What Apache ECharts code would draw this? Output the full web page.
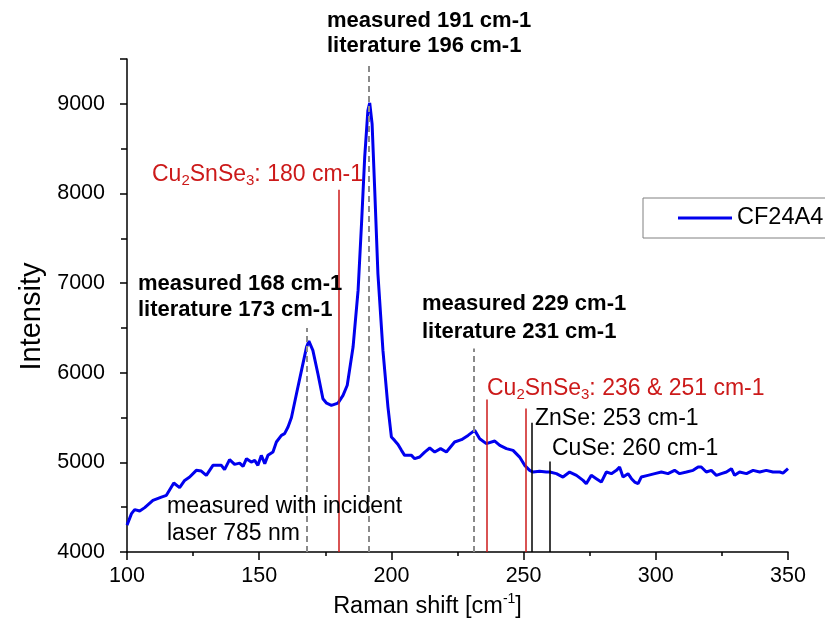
<!DOCTYPE html>
<html><head><meta charset="utf-8">
<script src="https://cdn.jsdelivr.net/npm/echarts@6/dist/echarts.min.js"></script>
<style>html,body{margin:0;padding:0;background:#fff}#c{width:825px;height:622px}</style>
</head><body><div id="c"></div>
<script>
// ---- data ----
const seriesName = 'CF24A4';
const ramanShift = [100.0,100.4,101.7,102.9,104.8,106.7,109.8,113.0,114.9,117.7,119.9,121.8,123.7,126.2,128.1,130.0,132.5,135.7,136.9,138.8,140.7,142.6,143.9,145.2,147.0,148.3,149.5,150.8,152.1,153.3,155.2,156.5,158.4,159.6,160.9,162.2,164.1,166.0,167.9,168.8,170.3,172.2,174.1,175.5,177.3,179.8,181.7,183.3,185.5,187.4,188.7,189.9,191.1,191.8,192.7,193.7,194.9,196.8,198.7,200.0,201.2,202.5,203.8,205.0,207.6,208.8,210.7,212.6,214.5,216.4,218.6,220.8,221.4,223.9,226.5,229.0,231.5,233.4,235.9,239.1,241.0,243.5,246.0,248.5,250.4,252.3,253.6,256.0,258.6,259.9,262.4,264.9,267.4,270.0,272.5,273.7,275.6,277.5,279.4,281.3,283.2,285.1,286.3,287.6,289.5,290.8,292.0,293.3,294.5,297.0,299.6,302.1,304.6,307.1,309.0,311.6,314.1,316.0,317.2,319.1,321.0,322.9,324.8,326.7,328.6,329.8,331.7,334.3,336.8,339.3,341.8,344.3,346.9,348.1,350.0];
const intensity = [4300,4317,4428,4473,4457,4495,4576,4613,4632,4770,4718,4799,4836,4911,4903,4855,4967,4967,4919,5030,4978,4992,4955,5041,5003,5022,4967,5078,4986,5078,5115,5227,5301,5320,5394,5500,5766,6026,6286,6353,6249,5989,5710,5660,5636,5661,5747,5860,6286,6918,7662,8404,8925,9010,8777,8033,7104,6249,5617,5282,5245,5200,5134,5078,5078,5041,5060,5115,5160,5115,5153,5115,5097,5227,5253,5301,5357,5264,5209,5238,5190,5153,5134,5059,4967,4911,4892,4900,4892,4892,4874,4836,4892,4855,4799,4762,4855,4818,4780,4892,4874,4911,4948,4836,4874,4818,4780,4762,4836,4855,4874,4892,4874,4911,4874,4892,4911,4948,4948,4892,4911,4855,4874,4892,4930,4855,4892,4874,4911,4892,4911,4892,4892,4880,4930];
const xTickValues = [100,150,200,250,300,350];
const yTickValues = [4000,5000,6000,7000,8000,9000];
const yAxisTop = 9500;
// peak marker lines (dashed grey): position and top value
const peakLineX = [168, 191.5, 231];
const peakLineTop = [6500, 9430, 6270];
// Cu2SnSe3 literature lines (red)
const cu2LineX = [180, 236, 251];
const cu2LineTop = [8040, 5700, 5600];
// other phases (black)
const phaseLineX = [253, 260];
const phaseLineTop = [5443, 5011];

const F='Liberation Sans, Arial, sans-serif';
const axisFont=F, tickSize=21.5, nameSize=23.5;
const RED='#cc1a1a', GREY='#8a8a8a';

const seg=(x,top)=>[{coord:[x,yTickValues[0]]},{coord:[x,top]}];
const mlData=[];
peakLineX.forEach((x,i)=>mlData.push(seg(x,peakLineTop[i]).map((p,j)=>j?p:Object.assign(p,{lineStyle:{color:GREY,width:2,type:[6,4]}}))));
cu2LineX.forEach((x,i)=>mlData.push(seg(x,cu2LineTop[i]).map((p,j)=>j?p:Object.assign(p,{lineStyle:{color:RED,width:1.5,type:'solid'}}))));
phaseLineX.forEach((x,i)=>mlData.push(seg(x,phaseLineTop[i]).map((p,j)=>j?p:Object.assign(p,{lineStyle:{color:'#000',width:1.5,type:'solid'}}))));

function txt(x,y,text,opt){
  return {type:'text',x:x,y:y,z:100,silent:true,style:Object.assign({text:text,fill:'#000',font:'23px '+F,verticalAlign:'middle',align:'left'},opt||{})};
}
const richSub={
  m:{fontSize:23,fontFamily:F,color:RED,lineHeight:26,verticalAlign:'middle'},
  s:{fontSize:15,fontFamily:F,color:RED,lineHeight:6,verticalAlign:'bottom'}
};
const B='bold 22px '+F;

const chart=echarts.init(document.getElementById('c'),null,{renderer:'canvas'});
chart.setOption({
  animation:false,
  backgroundColor:'#fff',
  grid:{left:127,right:37,top:59,bottom:70,containLabel:false,outerBoundsMode:'none'},
  legend:{left:643,top:198,padding:[8,45,8,35],itemWidth:54,itemHeight:3,icon:'rect',borderColor:'#808080',borderWidth:1,
    textStyle:{fontFamily:F,fontSize:23.5,color:'#000',lineHeight:24},data:[seriesName]},
  xAxis:{type:'value',min:xTickValues[0],max:xTickValues[xTickValues.length-1],interval:xTickValues[1]-xTickValues[0],
    name:'Raman shift [cm{sup|-1}]',nameLocation:'middle',nameGap:38,
    nameTextStyle:{fontFamily:axisFont,fontSize:nameSize,color:'#000',lineHeight:30,padding:[0,60,0,0],
      rich:{sup:{fontFamily:axisFont,fontSize:14,color:'#000',lineHeight:18,verticalAlign:'top'}}},
    axisLine:{onZero:false,lineStyle:{color:'#000',width:1.5}},
    axisTick:{length:8,lineStyle:{color:'#000',width:1.5}},
    minorTick:{show:true,splitNumber:2,length:4,lineStyle:{color:'#000',width:1.5}},
    splitLine:{show:false},
    axisLabel:{margin:13,fontFamily:axisFont,fontSize:tickSize,color:'#000',formatter:v=>String(v)}},
  yAxis:{type:'value',min:yTickValues[0],max:yAxisTop,interval:yTickValues[1]-yTickValues[0],
    name:'Intensity',nameLocation:'middle',nameGap:74,
    nameTextStyle:{fontFamily:F,fontSize:29,color:'#000',padding:[0,22,0,0]},
    axisLine:{show:true,onZero:false,lineStyle:{color:'#000',width:1.5}},
    axisTick:{show:true,length:7,lineStyle:{color:'#000',width:1.5}},
    minorTick:{show:true,splitNumber:2,length:6,lineStyle:{color:'#000',width:1.5}},
    splitLine:{show:false},
    axisLabel:{margin:22,fontFamily:axisFont,fontSize:tickSize,color:'#000',showMaxLabel:false,formatter:v=>String(v)}},
  series:[{
    name:seriesName,type:'line',symbol:'none',showSymbol:false,
    data:ramanShift.map((x,i)=>[x,intensity[i]]),
    lineStyle:{color:'#0000ee',width:3},itemStyle:{color:'#0000ee'},
    markLine:{silent:true,symbol:['none','none'],label:{show:false},animation:false,data:mlData}
  }],
  graphic:[
    txt(327,21,'measured 191 cm-1',{font:B}),
    txt(327,46,'literature 196 cm-1',{font:B}),
    txt(138,284,'measured 168 cm-1',{font:B}),
    txt(138,310,'literature 173 cm-1',{font:B}),
    txt(422,304,'measured 229 cm-1',{font:B}),
    txt(422,332,'literature 231 cm-1',{font:B}),
    txt(152,175,'{m|Cu}{s|2}{m|SnSe}{s|3}{m|: 180 cm-1}',{rich:richSub,fill:RED}),
    txt(487,389,'{m|Cu}{s|2}{m|SnSe}{s|3}{m|: 236 & 251 cm-1}',{rich:richSub,fill:RED}),
    txt(535,419,'ZnSe: 253 cm-1'),
    txt(552,449,'CuSe: 260 cm-1'),
    txt(167,507,'measured with incident'),
    txt(167,534,'laser 785 nm')
  ]
});
</script></body></html>
